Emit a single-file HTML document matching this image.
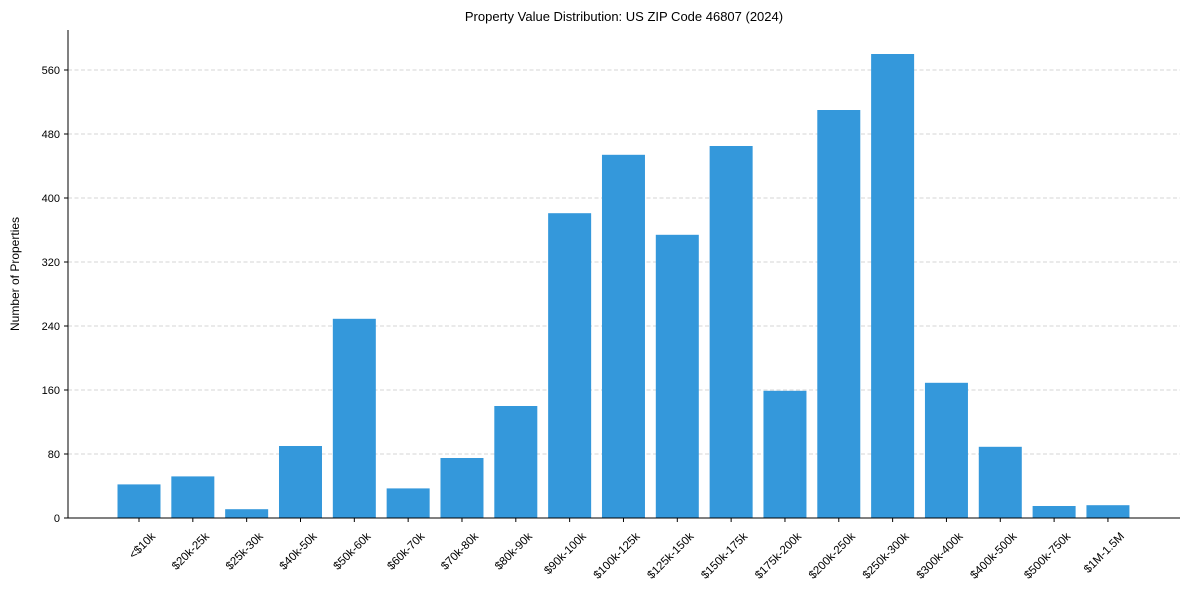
<!DOCTYPE html>
<html><head><meta charset="utf-8"><style>body{margin:0;background:#fff}svg{display:block;font-family:"Liberation Sans",Arial,sans-serif}</style></head>
<body>
<svg id="chart" width="1189" height="590">
<text x="624" y="21" text-anchor="middle" font-size="13">Property Value Distribution: US ZIP Code 46807 (2024)</text>
<text transform="translate(19,274) rotate(-90)" text-anchor="middle" font-size="12">Number of Properties</text>
<g id="grid"></g><g id="bars"></g><g id="axes"></g>
</svg>
<script>
const categories=["<$10k","$20k-25k","$25k-30k","$40k-50k","$50k-60k","$60k-70k","$70k-80k","$80k-90k","$90k-100k","$100k-125k","$125k-150k","$150k-175k","$175k-200k","$200k-250k","$250k-300k","$300k-400k","$400k-500k","$500k-750k","$1M-1.5M"];
const values=[42,52,11,90,249,37,75,140,381,454,354,465,159,510,580,169,89,15,16];
const yTicks=[0,80,160,240,320,400,480,560];
const NS="http://www.w3.org/2000/svg";
const x0=68,x1=1180,y0=518,yTop=30;
const yScale=v=>y0-v*0.8;
const xScale=i=>139+i*53.83;
function mk(t,a,p){const e=document.createElementNS(NS,t);for(const k in a)e.setAttribute(k,a[k]);p.appendChild(e);return e;}
const grid=document.getElementById('grid'),bars=document.getElementById('bars'),axes=document.getElementById('axes');
yTicks.forEach(v=>{
 const y=yScale(v);
 if(v>0){const g=mk('line',{x1:x0,x2:x1,y1:y,y2:y,stroke:'#c8c8c8','stroke-width':'0.8','stroke-dasharray':'4,2.5'},grid);
 
 }
 mk('line',{x1:x0-4,x2:x0,y1:y,y2:y,stroke:'#000'},axes);
 const t=mk('text',{x:x0-8,y:y+4,'text-anchor':'end','font-size':'11'},axes);t.textContent=v;
 
 
});
categories.forEach((c,i)=>{
 const cx=xScale(i),y=yScale(values[i]);
 const r=mk('rect',{x:cx-21.5,y:y,width:43,height:y0-y,fill:'#3498db'},bars);
 
 
 mk('line',{x1:cx,x2:cx,y1:y0,y2:y0+4,stroke:'#000'},axes);
 const t=mk('text',{transform:`translate(${cx+17},${y0+19}) rotate(-45)`,'text-anchor':'end','font-size':'11.5'},axes);t.textContent=c;
 
 
});
mk('line',{x1:x0,x2:x0,y1:yTop,y2:y0,stroke:'#000'},axes);
mk('line',{x1:x0,x2:x1,y1:y0,y2:y0,stroke:'#000'},axes);
</script>
</body></html>
